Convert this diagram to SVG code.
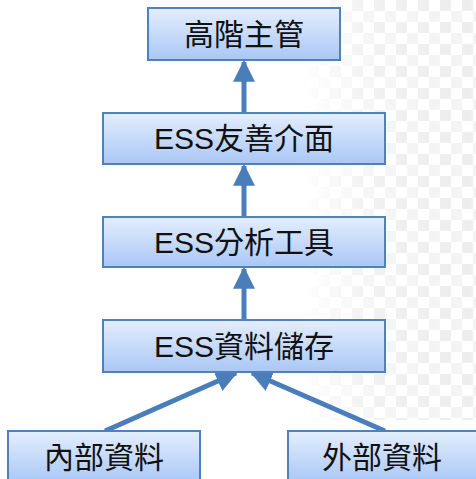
<svg xmlns="http://www.w3.org/2000/svg" width="476" height="479" viewBox="0 0 476 479">
<style>
.box{fill:url(#g);stroke:#4f81bd;stroke-width:2}
.t{font-family:"Liberation Sans","Noto Sans CJK TC",sans-serif;font-size:30px;fill:#111;text-anchor:middle}
.c{stroke:#4a7ebb;stroke-width:5;fill:none}
</style>
<defs>
<linearGradient id="g" x1="0" y1="0" x2="0" y2="1">
<stop offset="0" stop-color="#e4eefd"/>
<stop offset="1" stop-color="#a9c7f6"/>
</linearGradient>
<pattern id="chk" width="22" height="22" patternUnits="userSpaceOnUse">
<rect x="0" y="0" width="11" height="11" fill="#e6e6e6"/>
<rect x="11" y="11" width="11" height="11" fill="#eeeeee"/>
</pattern>
<linearGradient id="fade" x1="0" y1="0" x2="1" y2="0">
<stop offset="0" stop-color="#fff" stop-opacity="0"/>
<stop offset="0.4" stop-color="#fff" stop-opacity="0.8"/>
<stop offset="1" stop-color="#fff" stop-opacity="1"/>
</linearGradient>
<mask id="m"><rect x="300" y="0" width="176" height="420" fill="url(#fade)"/></mask>
<marker id="ah" viewBox="0 0 10 10" refX="9" refY="5" markerWidth="4.4" markerHeight="4.4" orient="auto" markerUnits="strokeWidth">
<path d="M0,0 L10,5 L0,10 z" fill="#4a7ebb"/>
</marker>
</defs>
<rect width="476" height="479" fill="#fff"/>
<rect x="300" y="0" width="176" height="420" fill="url(#chk)" mask="url(#m)" opacity="0.7"/>
<g id="connectors">
<line class="c" x1="244" y1="113" x2="244" y2="62" marker-end="url(#ah)"/>
<line class="c" x1="244" y1="217" x2="244" y2="166" marker-end="url(#ah)"/>
<line class="c" x1="244" y1="320" x2="244" y2="269" marker-end="url(#ah)"/>
<line class="c" x1="105" y1="431" x2="236" y2="373" marker-end="url(#ah)"/>
<line class="c" x1="385" y1="431" x2="252" y2="373" marker-end="url(#ah)"/>
</g>
<g id="n1"><rect class="box" x="148" y="8" width="192" height="52"/><text class="t" x="244" y="45">高階主管</text></g>
<g id="n2"><rect class="box" x="103" y="113" width="282" height="51"/><text class="t" x="244" y="149">ESS友善介面</text></g>
<g id="n3"><rect class="box" x="103" y="217" width="282" height="50"/><text class="t" x="244" y="253">ESS分析工具</text></g>
<g id="n4"><rect class="box" x="103" y="320" width="282" height="52"/><text class="t" x="244" y="357">ESS資料儲存</text></g>
<g id="n5"><rect class="box" x="8" y="431" width="192" height="52"/><text class="t" x="104" y="468">內部資料</text></g>
<g id="n6"><rect class="box" x="288" y="431" width="192" height="52"/><text class="t" x="382" y="468">外部資料</text></g>
</svg>
